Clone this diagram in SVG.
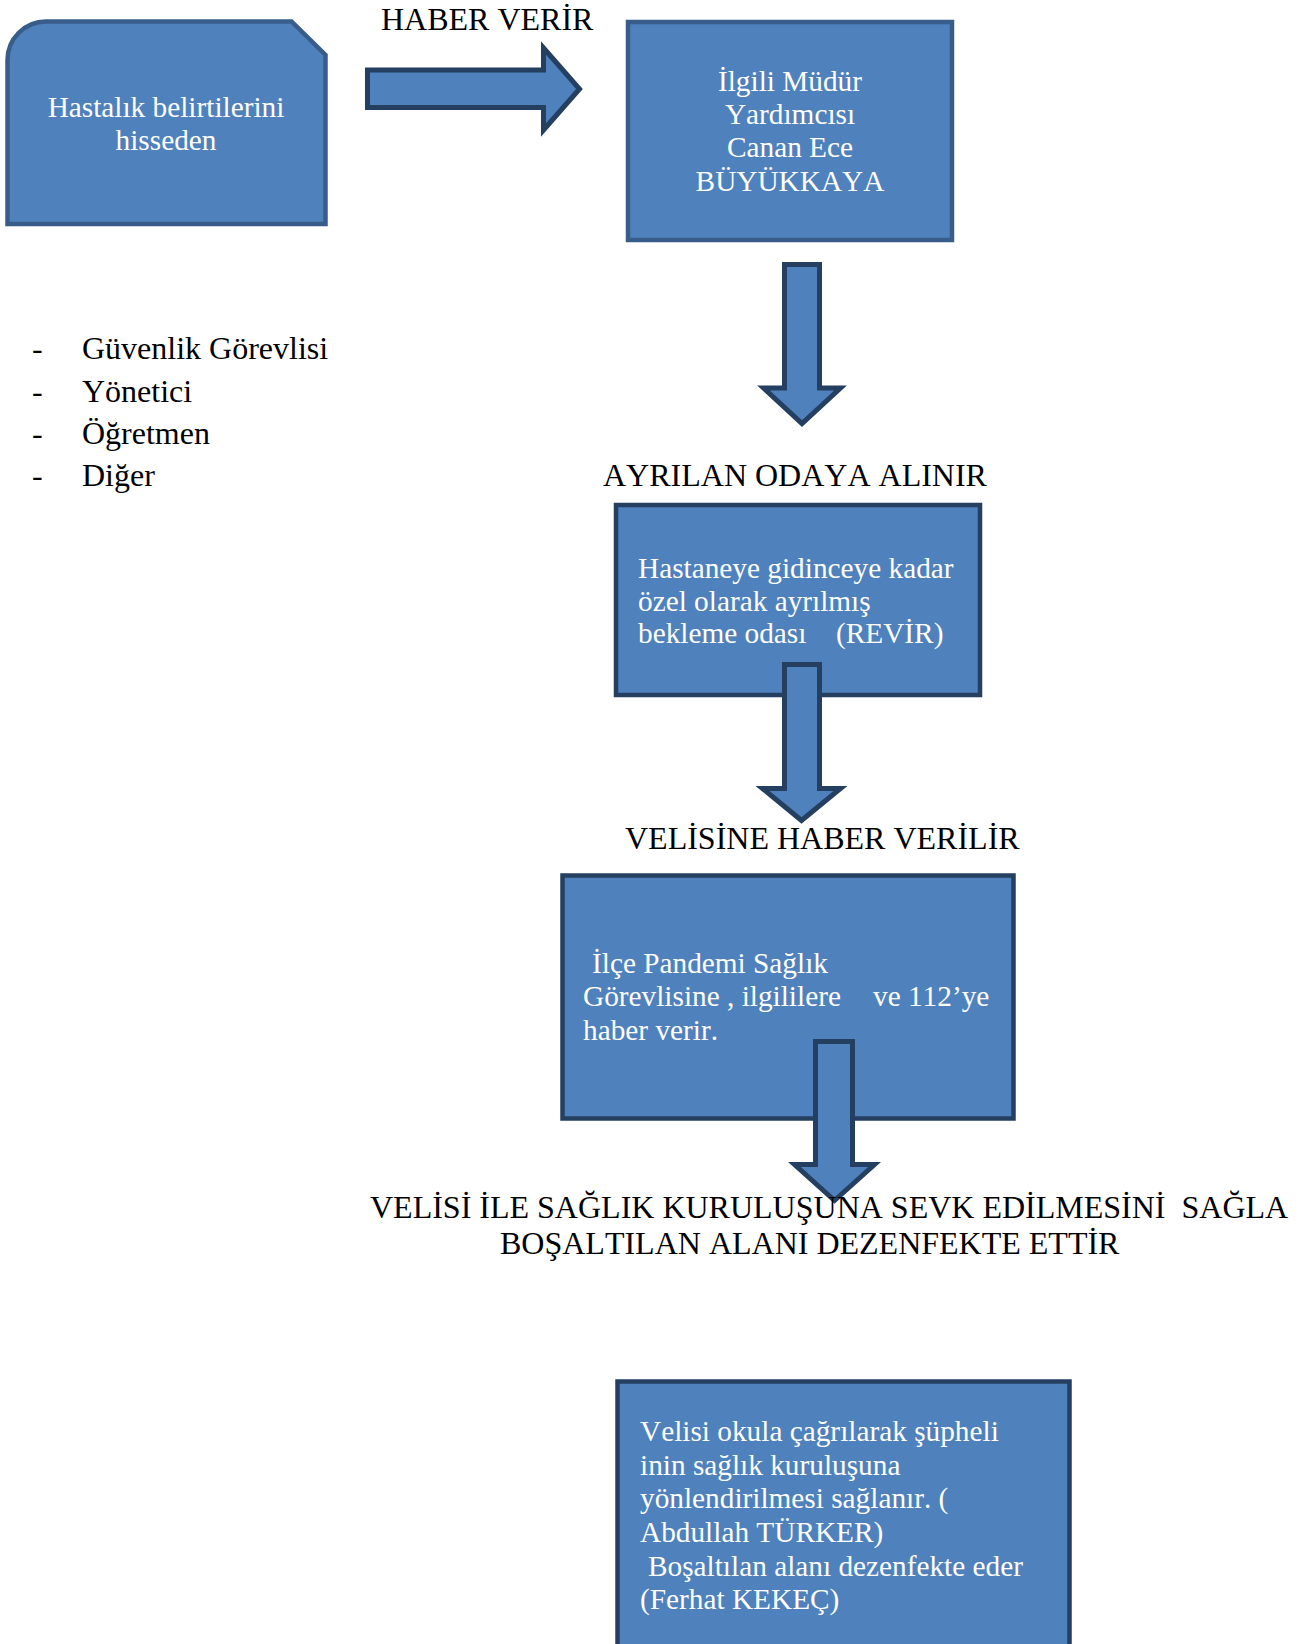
<svg xmlns="http://www.w3.org/2000/svg" width="1300" height="1644" viewBox="0 0 1300 1644">
<style>
  .box { fill: #4F81BD; stroke-linejoin: miter; }
  .b1 { stroke: #385D8A; stroke-width: 4.5; }
  .b2 { stroke: #243F60; stroke-width: 4.5; }
  .arrow { fill: #4F81BD; stroke: #243F60; stroke-width: 5; stroke-linejoin: miter; stroke-miterlimit: 10; }
  .bt { font-family: "Liberation Serif", "Times New Roman", serif; font-size: 29.3px; fill: #FFFFFF; font-kerning: none; }
  .lbl { font-family: "Liberation Serif", "Times New Roman", serif; font-size: 32px; fill: #000000; font-kerning: none; }
  .mid { text-anchor: middle; }
</style>
<rect width="1300" height="1644" fill="#FFFFFF"/>

<g id="node-hastalik">
  <path class="box b1" d="M 7.5 224 L 7.5 60 A 38.5 38.5 0 0 1 46 21.5 L 291.5 21.5 L 325.5 55 L 325.5 224 Z"/>
  <text class="bt mid" x="166" y="117">Hastalık belirtilerini</text>
  <text class="bt mid" x="166" y="150">hisseden</text>
</g>

<g id="node-mudur">
  <rect class="box b1" x="628" y="22" width="324" height="218"/>
  <text class="bt mid" x="790" y="91">İlgili Müdür</text>
  <text class="bt mid" x="790" y="124">Yardımcısı</text>
  <text class="bt mid" x="790" y="157">Canan Ece</text>
  <text class="bt mid" x="790" y="191">BÜYÜKKAYA</text>
</g>

<g id="node-revir">
  <rect class="box b2" x="616" y="505" width="364" height="190"/>
  <text class="bt" x="638" y="578">Hastaneye gidinceye kadar</text>
  <text class="bt" x="638" y="611">özel olarak ayrılmış</text>
  <text class="bt" y="643"><tspan x="638">bekleme odası</tspan><tspan x="836">(REVİR)</tspan></text>
</g>

<g id="node-ilce">
  <rect class="box b2" x="562.5" y="875.5" width="451" height="243"/>
  <text class="bt" x="592" y="973">İlçe Pandemi Sağlık</text>
  <text class="bt" y="1006"><tspan x="583">Görevlisine , ilgililere</tspan><tspan x="873">ve 112’ye</tspan></text>
  <text class="bt" x="583" y="1040">haber verir.</text>
</g>

<g id="node-velisi">
  <rect class="box b2" x="617.5" y="1381.5" width="452" height="320"/>
  <text class="bt" x="640" y="1441">Velisi okula çağrılarak şüpheli</text>
  <text class="bt" x="640" y="1475">inin sağlık kuruluşuna</text>
  <text class="bt" x="640" y="1508">yönlendirilmesi sağlanır. (</text>
  <text class="bt" x="640" y="1542">Abdullah TÜRKER)</text>
  <text class="bt" x="648" y="1576">Boşaltılan alanı dezenfekte eder</text>
  <text class="bt" x="640" y="1609">(Ferhat KEKEÇ)</text>
</g>

<g id="connectors">
  <polygon class="arrow" points="367.5,70 543.5,70 543.5,48 579.5,89 543.5,130 543.5,107.5 367.5,107.5"/>
  <polygon class="arrow" points="784.5,264.5 819.5,264.5 819.5,388 840.5,388 802,423.5 763.5,388 784.5,388"/>
  <polygon class="arrow" points="784.5,664.5 819.5,664.5 819.5,788.5 840.5,788.5 801.5,820.5 762.5,788.5 784.5,788.5"/>
  <polygon class="arrow" points="815.5,1041.5 852.5,1041.5 852.5,1164.5 874.5,1164.5 834.5,1200.5 794.5,1164.5 815.5,1164.5"/>
</g>

<g id="labels">
  <text class="lbl" x="381" y="30">HABER VERİR</text>
  <text class="lbl" x="603" y="486">AYRILAN ODAYA ALINIR</text>
  <text class="lbl" x="625" y="849">VELİSİNE HABER VERİLİR</text>
  <text class="lbl" x="370" y="1218" xml:space="preserve">VELİSİ İLE SAĞLIK KURULUŞUNA SEVK EDİLMESİNİ  SAĞLA</text>
  <text class="lbl" x="500" y="1254">BOŞALTILAN ALANI DEZENFEKTE ETTİR</text>
</g>

<g id="list">
  <text class="lbl" x="32" y="359">-</text>
  <text class="lbl" x="82" y="359">Güvenlik Görevlisi</text>
  <text class="lbl" x="32" y="402">-</text>
  <text class="lbl" x="82" y="402">Yönetici</text>
  <text class="lbl" x="32" y="444">-</text>
  <text class="lbl" x="82" y="444">Öğretmen</text>
  <text class="lbl" x="32" y="486">-</text>
  <text class="lbl" x="82" y="486">Diğer</text>
</g>
</svg>
